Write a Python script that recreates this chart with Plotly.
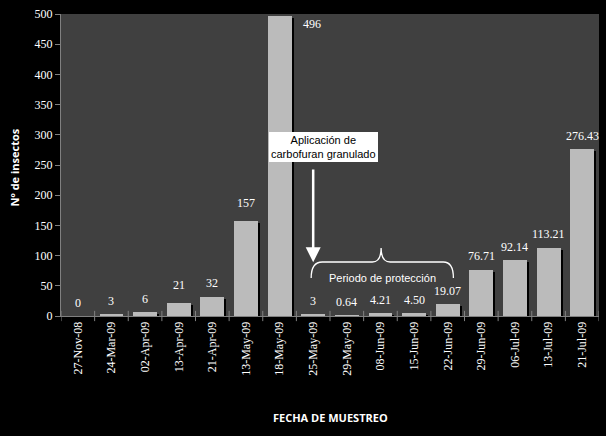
import plotly.graph_objects as go

# Sampling dates and insect counts
fechas = ["27-Nov-08", "24-Mar-09", "02-Apr-09", "13-Apr-09", "21-Apr-09",
          "13-May-09", "18-May-09", "25-May-09", "29-May-09", "08-Jun-09",
          "15-Jun-09", "22-Jun-09", "29-Jun-09", "06-Jul-09", "13-Jul-09",
          "21-Jul-09"]
insectos = [0, 3, 6, 21, 32, 157, 496, 3, 0.64, 4.21, 4.50, 19.07, 76.71,
            92.14, 113.21, 276.43]
etiquetas = ["0", "3", "6", "21", "32", "157", "496", "3", "0.64", "4.21",
             "4.50", "19.07", "76.71", "92.14", "113.21", "276.43"]

idx = list(range(len(fechas)))
BAR_W = 0.71
SHADOW_DX = 0.06
SHADOW_DY = 3.3

fig = go.Figure()
# drop shadow behind each bar
fig.add_trace(go.Bar(
    x=idx, y=insectos, base=[-SHADOW_DY] * len(idx),
    width=BAR_W, offset=-BAR_W / 2 + SHADOW_DX,
    marker=dict(color="#000000", line=dict(width=0)),
    hoverinfo="skip", showlegend=False))
fig.add_trace(go.Bar(
    x=idx, y=insectos, width=BAR_W, offset=-BAR_W / 2,
    marker=dict(color="#bbbbbb", line=dict(width=0)),
    showlegend=False))

serif = "Liberation Serif"
sans = "Liberation Sans"
bold_sans = "Open Sans"

annotations = []
# value labels above the bars
for i, (v, t) in enumerate(zip(insectos, etiquetas)):
    if t == "496":
        annotations.append(dict(x=i, y=v, text=t, xref="x", yref="y",
                                showarrow=False, xshift=32, yshift=-8,
                                font=dict(family=serif, size=12, color="#ffffff")))
        continue
    shift = 18 if t in ("21", "157") else 13.5
    annotations.append(dict(x=i, y=v, text=t, xref="x", yref="y",
                            showarrow=False, yshift=shift, yanchor="middle",
                            font=dict(family=serif, size=12, color="#ffffff")))

# application note with arrow
annotations.append(dict(
    x=7.31, y=279, xref="x", yref="y", showarrow=False,
    text="Aplicación de<br>carbofuran granulado",
    font=dict(family=sans, size=11, color="#000000"),
    bgcolor="#ffffff", borderpad=2, borderwidth=0))
annotations.append(dict(
    x=7.0, y=89, ax=7.0, ay=245, xref="x", yref="y", axref="x", ayref="y",
    text="", showarrow=True, arrowhead=2, arrowsize=1.2, arrowwidth=2.5,
    arrowcolor="#ffffff"))
annotations.append(dict(
    x=9.05, y=62.5, xref="x", yref="y", showarrow=False,
    text="Periodo de protección",
    font=dict(family=sans, size=11, color="#ffffff")))

# axis titles
annotations.append(dict(
    x=0, y=0.492, xref="paper", yref="paper", xanchor="center",
    yanchor="middle", xshift=-47, showarrow=False,
    textangle=-90, text="<b>Nº de insectos</b>",
    font=dict(family=bold_sans, size=11, color="#ffffff")))
annotations.append(dict(
    x=0.5, y=0, xref="paper", yref="paper", xanchor="center",
    yanchor="middle", yshift=-101, showarrow=False,
    text="<b>FECHA DE MUESTREO</b>",
    font=dict(family=bold_sans, size=11, color="#ffffff")))

# curly brace over the protection period
brace = ("M 6.94,62.9 Q 6.94,89.4 7.27,89.4 L 8.76,89.4 "
         "Q 9.02,89.4 9.02,112.6 Q 9.02,89.4 9.29,89.4 "
         "L 10.87,89.4 Q 11.17,89.4 11.17,62.9")

fig.update_layout(
    width=606, height=436,
    margin=dict(l=61, r=7, t=14, b=120),
    paper_bgcolor="#000000", plot_bgcolor="#404040",
    barmode="overlay", bargap=0,
    annotations=annotations,
    shapes=[dict(type="path", path=brace, xref="x", yref="y",
                 line=dict(color="#ffffff", width=1.3))],
    xaxis=dict(range=[-0.5, len(idx) - 0.5],
               tickmode="array", tickvals=idx, ticktext=fechas,
               tickangle=-90, ticks="", showgrid=False, zeroline=False,
               showline=True, linecolor="#808080", linewidth=1,
               tickfont=dict(family=serif, size=12, color="#ffffff")),
    yaxis=dict(range=[0, 500], tickvals=list(range(0, 501, 50)),
               ticks="outside", ticklen=5, tickcolor="#808080",
               showgrid=False, zeroline=False,
               showline=True, linecolor="#808080", linewidth=1,
               tickfont=dict(family=serif, size=12, color="#ffffff")),
)

# boundary tick marks on the category axis, crossing the axis line
for b in range(len(idx) + 1):
    fig.add_shape(type="line", xref="x", yref="paper",
                  x0=b - 0.5, x1=b - 0.5, y0=-0.017, y1=0.017,
                  line=dict(color="#808080", width=1))

fig.write_html("out.html")
